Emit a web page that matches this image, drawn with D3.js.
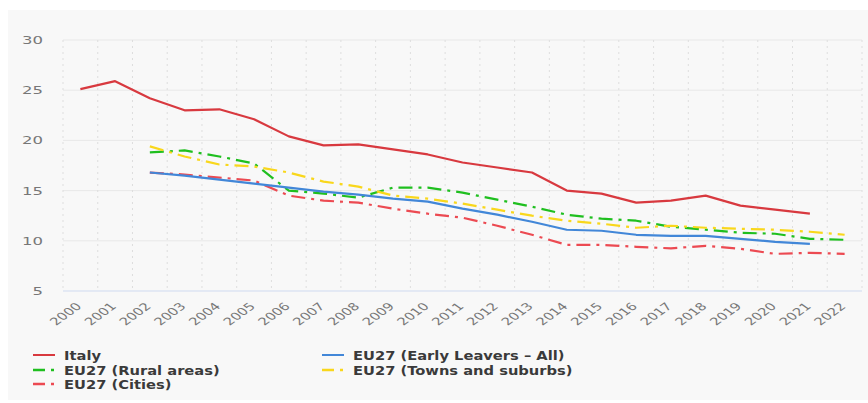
<!DOCTYPE html>
<html><head><meta charset="utf-8">
<script src="https://cdn.jsdelivr.net/npm/d3@7"></script>
<style>body{margin:0;background:#fff}svg{display:block;font-family:"DejaVu Sans",sans-serif}</style>
</head><body><svg id="c" width="868" height="403"></svg>
<script>
const years = ["2000","2001","2002","2003","2004","2005","2006","2007","2008","2009","2010","2011","2012","2013","2014","2015","2016","2017","2018","2019","2020","2021","2022"];
const yTicks = [5,10,15,20,25,30];
const italy = [25.1,25.9,24.2,23.0,23.1,22.1,20.4,19.5,19.6,19.1,18.6,17.8,17.3,16.8,15.0,14.7,13.8,14.0,14.5,13.5,13.1,12.7,null];
const eu27All = [null,null,16.8,16.5,16.1,15.7,15.3,14.9,14.6,14.2,13.9,13.2,12.6,11.9,11.1,11.0,10.6,10.5,10.5,10.2,9.9,9.7,null];
const rural = [null,null,18.8,19.0,18.4,17.7,15.0,14.7,14.3,15.3,15.3,14.8,14.1,13.4,12.6,12.2,12.0,11.4,11.1,10.8,10.7,10.2,10.1];
const towns = [null,null,19.4,18.4,17.6,17.4,16.8,15.9,15.4,14.5,14.2,13.7,13.1,12.5,12.0,11.7,11.3,11.5,11.3,11.2,11.1,10.9,10.6];
const cities = [null,null,16.8,16.6,16.3,16.0,14.5,14.0,13.8,13.2,12.7,12.3,11.5,10.6,9.6,9.6,9.4,9.25,9.5,9.2,8.7,8.8,8.7];

const series = [
  {name:"Italy", values:italy, color:"#d8393f", dash:null},
  {name:"EU27 (Early Leavers – All)", values:eu27All, color:"#4287d8", dash:null},
  {name:"EU27 (Rural areas)", values:rural, color:"#1fbf1f", dash:"14,6,3,6"},
  {name:"EU27 (Towns and suburbs)", values:towns, color:"#f9d71c", dash:"14,6,3,6"},
  {name:"EU27 (Cities)", values:cities, color:"#ec4a52", dash:"14,6,3,6"}
];

const svg = d3.select("#c");
svg.append("rect").attr("x",8).attr("y",10).attr("width",860).attr("height",390).attr("fill","#f8f8f8");

const x = d3.scaleBand().domain(years).range([63,862]);
const y = d3.scaleLinear().domain([5,30]).range([291,40]);

// horizontal grid
svg.append("g").selectAll("line").data(yTicks.filter(t=>t>5)).join("line")
  .attr("x1",63).attr("x2",862).attr("y1",d=>y(d)).attr("y2",d=>y(d))
  .attr("stroke","#e8e8e8").attr("stroke-width",1);
// vertical dotted grid at band edges
const edges = years.map(d=>x(d)).concat([x.range()[1]]);
svg.append("g").selectAll("line").data(edges).join("line")
  .attr("x1",d=>d).attr("x2",d=>d).attr("y1",y(30)).attr("y2",y(5))
  .attr("stroke","#dedede").attr("stroke-dasharray","2,4").attr("stroke-width",1);
// x axis line
svg.append("line").attr("x1",63).attr("x2",862).attr("y1",y(5)).attr("y2",y(5)).attr("stroke","#cfdaf0").attr("stroke-width",1);

// y labels (horizontally stretched like the reference)
const gy = svg.append("g");
gy.selectAll("text").data(yTicks).join("text")
  .attr("transform",d=>`translate(43,${y(d)+4}) scale(1.5,1)`)
  .attr("text-anchor","end").attr("fill","#777").style("font-size","11px")
  .text(d=>d3.format("d")(d));

// x labels
const gx = svg.append("g");
gx.selectAll("text").data(years).join("text")
  .attr("transform",d=>`translate(${x(d)+x.bandwidth()/2+2},${y(5)+16}) scale(1.4,1) rotate(-45)`)
  .attr("text-anchor","end").attr("fill","#777").style("font-size","10.5px")
  .text(d=>d);

const line = d3.line().defined(d=>d!=null).x((d,i)=>x(years[i])+x.bandwidth()/2).y(d=>y(d));
const order = [2,3,4,1,0];
order.forEach(k=>{
  const s = series[k];
  svg.append("path").datum(s.values).attr("d",line).attr("fill","none")
    .attr("stroke",s.color).attr("stroke-width",2.2)
    .attr("stroke-dasharray",s.dash).attr("stroke-linejoin","round");
});

// legend
const legendPos = [[33,355],[322,355],[33,370],[322,370],[33,384]];
series.forEach((s,j)=>{
  const [lx,ly] = legendPos[j];
  const g = svg.append("g");
  if(s.dash){
    g.append("line").attr("x1",lx).attr("x2",lx+12).attr("y1",ly).attr("y2",ly).attr("stroke",s.color).attr("stroke-width",2.5);
    g.append("line").attr("x1",lx+18).attr("x2",lx+21).attr("y1",ly).attr("y2",ly).attr("stroke",s.color).attr("stroke-width",2.5);
  } else {
    g.append("line").attr("x1",lx).attr("x2",lx+22).attr("y1",ly).attr("y2",ly).attr("stroke",s.color).attr("stroke-width",2);
  }
  g.append("text").attr("transform",`translate(${lx+31},${ly+4.5}) scale(1.13,1)`).text(s.name)
    .attr("fill","#3a3a3a").style("font-size","13px").style("font-weight","bold");
});
</script></body></html>
